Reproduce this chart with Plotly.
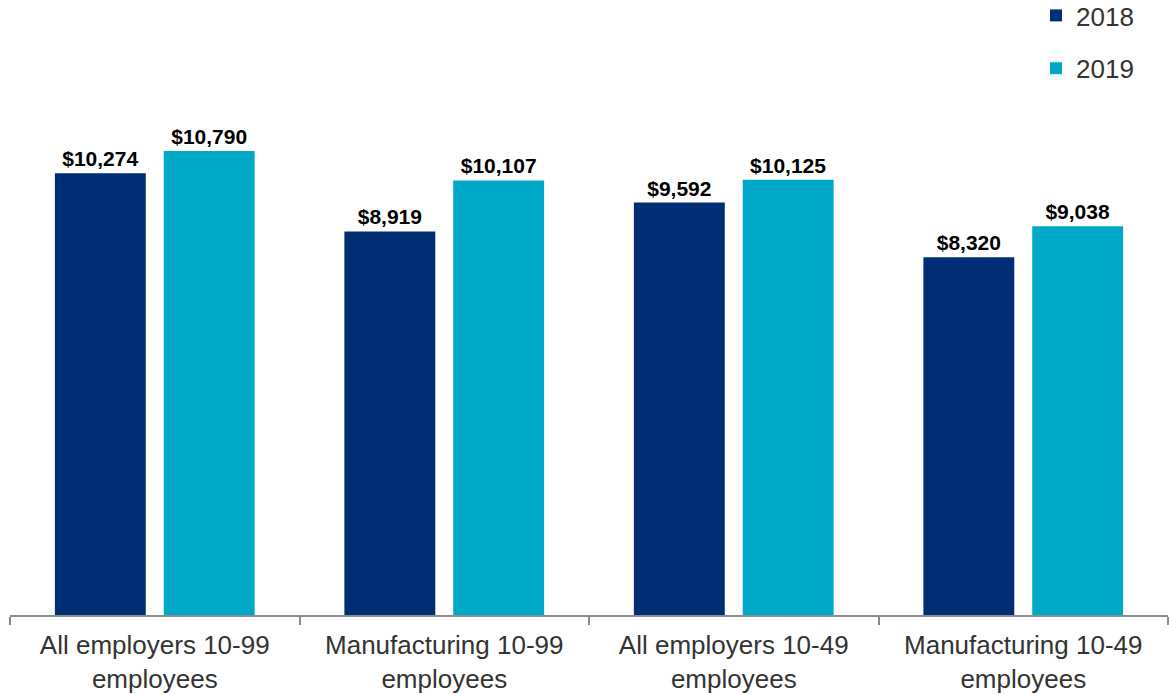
import plotly.graph_objects as go

categories = ["All employers 10-99<br>employees", "Manufacturing 10-99<br>employees",
              "All employers 10-49<br>employees", "Manufacturing 10-49<br>employees"]
values_2018 = [10274, 8919, 9592, 8320]
values_2019 = [10790, 10107, 10125, 9038]

FONT = "Liberation Sans, Arial, sans-serif"
C2018 = "#002D74"
C2019 = "#00A8C8"

fig = go.Figure()
for name, vals, col, grp in [("2018", values_2018, C2018, "a"), ("2019", values_2019, C2019, "b")]:
    fig.add_trace(go.Bar(
        x=categories, y=vals, name=name, marker_color=col, marker_line_width=0,
        legendgroup=grp,
        texttemplate="<b>$%{y:,}</b>", textposition="outside", cliponaxis=False,
        textfont=dict(family=FONT, size=21, color="#000000"),
    ))

PLOT_H = 694 - 99 - 79
fig.update_layout(
    width=1169, height=694,
    margin=dict(l=10, r=1, t=99, b=79, autoexpand=False),
    paper_bgcolor="white", plot_bgcolor="white",
    barmode="group", bargap=0.248, bargroupgap=0.165,
    font=dict(family=FONT, color="#333333"),
    legend=dict(
        xref="container", yref="paper", x=1036 / 1169, y=1 + (99 + 8) / PLOT_H,
        xanchor="left", yanchor="top",
        font=dict(family=FONT, size=26, color="#333333"),
        tracegroupgap=16, traceorder="grouped",
        bgcolor="rgba(0,0,0,0)",
    ),
    showlegend=True,
)
fig.update_xaxes(
    range=[-0.5, 3.5], showline=True, linecolor="#8c8c8c", linewidth=2,
    ticks="outside", tickson="boundaries", ticklen=8, tickcolor="#8c8c8c", tickwidth=2,
    ticklabelstandoff=6,
    tickfont=dict(family=FONT, size=26, color="#333333"), showgrid=False,
)
fig.update_yaxes(range=[0, 12000], visible=False, showgrid=False, zeroline=False)

fig.write_html("out.html")
